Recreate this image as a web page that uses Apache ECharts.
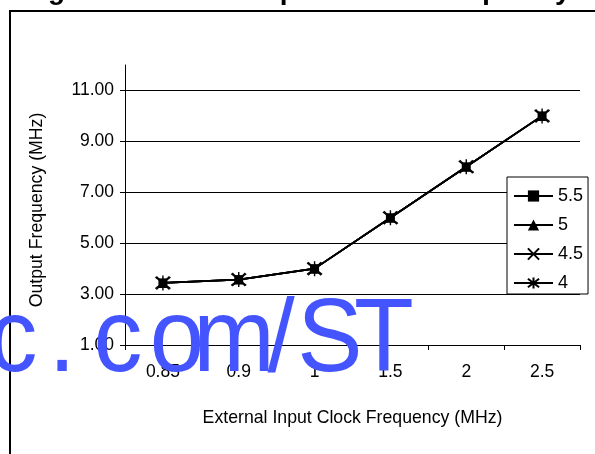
<!DOCTYPE html>
<html>
<head>
<meta charset="utf-8">
<script src="https://cdn.jsdelivr.net/npm/echarts@6/dist/echarts.min.js"></script>
<style>
  html, body { margin: 0; padding: 0; background: #fff; }
  #chart { width: 595px; height: 454px; }
</style>
</head>
<body>
<div id="chart"></div>
<script>
// External input clock frequency (MHz), one category per measurement
const categories = ['0.85', '0.9', '1', '1.5', '2', '2.5'];

// Output frequency (MHz) for each supply setting
const seriesNames = ['5.5', '5', '4.5', '4'];
const out55 = [3.44, 3.57, 4.0, 6.0, 8.0, 10.0];
const out50 = [3.44, 3.57, 4.0, 6.0, 8.0, 10.0];
const out45 = [3.44, 3.57, 4.0, 6.0, 8.0, 10.0];
const out40 = [3.44, 3.57, 4.0, 6.0, 8.0, 10.0];

// Value-axis tick positions
const yTicks = [1, 3, 5, 7, 9, 11];
const yMin = 1;
const yMax = 12;

const FONT = '"Liberation Sans", Arial, Helvetica, sans-serif';

const markerShapes = [
  'rect',
  'triangle',
  'path://M0,0L10,10M10,0L0,10',
  'path://M0,0L10,10M10,0L0,10M5,-1.5L5,11.5'
];
const markerSizes = [9, 10, 13, 15];
const legendMarkerSizes = [9, 9, 11, 12];
const dataSets = [out55, out50, out45, out40];

const chart = echarts.init(document.getElementById('chart'), null, { renderer: 'canvas' });

const series = seriesNames.map((name, i) => ({
  name: name,
  type: 'line',
  data: dataSets[i],
  symbol: markerShapes[i],
  symbolSize: markerSizes[i],
  showAllSymbol: true,
  z: 3 + i,
  lineStyle: { color: '#000', width: 1.7 },
  itemStyle: { color: '#000', borderColor: '#000', borderWidth: i >= 2 ? 1.4 : 0 },
  emphasis: { disabled: true },
  animation: false
}));

// stamp letters laid out one by one along the baseline
const stampChars = ['c', '.', 'c', 'o', 'm', '/', 'S', 'T'];
const stampCenters = [13, 62, 118, 177, 234, 281, 330, 384];
const stamp = stampChars.map((ch, i) => ({
  type: 'text',
  z: 100,
  x: stampCenters[i],
  y: 394,
  scaleX: 0.95,
  style: {
    text: ch,
    font: '103px ' + FONT,
    fill: '#4455ff',
    align: 'center',
    verticalAlign: 'bottom'
  },
  silent: true
}));

const option = {
  animation: false,
  backgroundColor: '#fff',
  textStyle: { fontFamily: FONT },
  grid: { left: 125, right: 15, top: 65, bottom: 109, containLabel: false },
  xAxis: {
    type: 'category',
    data: categories,
    boundaryGap: true,
    name: 'External Input Clock Frequency (MHz)',
    nameLocation: 'middle',
    nameGap: 64,
    nameTextStyle: { color: '#000', fontSize: 17.7, fontFamily: FONT },
    axisLine: { lineStyle: { color: '#000', width: 1 } },
    axisTick: { show: true, length: 5, alignWithLabel: false, lineStyle: { color: '#000' } },
    axisLabel: { color: '#000', fontSize: 17.5, margin: 18, fontFamily: FONT },
    splitLine: { show: false }
  },
  yAxis: {
    type: 'value',
    min: yMin,
    max: yMax,
    name: 'Output Frequency (MHz)',
    nameLocation: 'middle',
    nameRotate: 90,
    nameGap: 79,
    nameTextStyle: { color: '#000', fontSize: 17.7, fontFamily: FONT, padding: [0, 10, 0, 0] },
    axisLine: { show: true, lineStyle: { color: '#000', width: 1 } },
    axisTick: { show: true, length: 5, customValues: yTicks, lineStyle: { color: '#000' } },
    axisLabel: {
      customValues: yTicks,
      color: '#000', fontSize: 17.5, margin: 11, fontFamily: FONT,
      formatter: v => Number(v).toFixed(2)
    },
    splitLine: { show: true, lineStyle: { color: '#000', width: 1 } }
  },
  legend: {
    data: seriesNames.map((n, i) => ({ name: n, symbolSize: legendMarkerSizes[i] })),
    orient: 'vertical',
    left: 507,
    top: 177,
    backgroundColor: '#fff',
    borderColor: '#000',
    borderWidth: 1,
    borderRadius: 0,
    padding: [10, 5, 2, 6],
    itemWidth: 39,
    itemHeight: 14,
    itemGap: 11,
    selectedMode: false,
    textStyle: { color: '#000', fontSize: 18, fontFamily: FONT }
  },
  series: series,
  graphic: [
    {
      // page frame around the figure
      type: 'rect',
      z: 0,
      shape: { x: 10, y: 11, width: 620, height: 480 },
      style: { fill: 'none', stroke: '#000', lineWidth: 2 },
      silent: true
    },
    {
      // figure caption above the frame
      type: 'text',
      z: 10,
      x: 23,
      y: 5,
      style: {
        text: 'Figure 8. Clock Output vs. Ext Frequency',
        font: 'bold 28px ' + FONT,
        fill: '#000',
        verticalAlign: 'bottom'
      },
      silent: true
    }
  ].concat(stamp)
};

chart.setOption(option);
</script>
</body>
</html>
